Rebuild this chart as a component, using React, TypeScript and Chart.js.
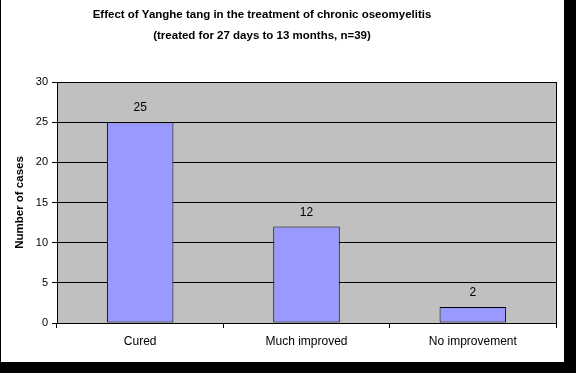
import { useEffect, useRef } from "react";
import { Chart, registerables } from "chart.js";

Chart.register(...registerables);

const categories = ["Cured", "Much improved", "No improvement"];
const cases = [25, 12, 2];
const yMin = 0;
const yMax = 30;
const yStep = 5;
const titleLines = [
  "Effect of Yanghe tang in the treatment of chronic oseomyelitis",
  "(treated for 27 days to 13 months, n=39)",
];
const yAxisTitle = "Number of cases";

const FONT = "'Liberation Sans', Arial, sans-serif";

const framePlugin = {
  id: "frame",
  beforeDraw(chart: any) {
    const { ctx, chartArea: a } = chart;
    ctx.save();
    ctx.fillStyle = "#000000";
    ctx.fillRect(0, 0, chart.width, chart.height);
    ctx.fillStyle = "#ffffff";
    ctx.fillRect(1, 0, 563, 362);
    ctx.fillStyle = "#c0c0c0";
    ctx.fillRect(a.left, a.top, a.right - a.left, a.bottom - a.top);
    ctx.restore();
  },
  afterDatasetsDraw(chart: any) {
    const { ctx } = chart;
    const meta = chart.getDatasetMeta(0);
    ctx.save();
    ctx.fillStyle = "#000000";
    ctx.font = `12px ${FONT}`;
    ctx.textAlign = "center";
    ctx.textBaseline = "middle";
    meta.data.forEach((el: any, i: number) => {
      ctx.fillText(String(cases[i]), el.x, el.y - 14);
    });
    ctx.restore();
  },
  afterDraw(chart: any) {
    const { ctx, chartArea: a } = chart;
    ctx.save();
    ctx.strokeStyle = "#000000";
    ctx.lineWidth = 1;
    ctx.strokeRect(a.left + 0.5, a.top + 0.5, a.right - a.left, a.bottom - a.top);
    ctx.fillStyle = "#000000";
    ctx.textAlign = "center";
    ctx.textBaseline = "middle";
    ctx.font = `bold 11.5px ${FONT}`;
    ctx.fillText(titleLines[0], 262, 15);
    ctx.fillText(titleLines[1], 262, 36);
    ctx.translate(20, (a.top + a.bottom) / 2);
    ctx.rotate(-Math.PI / 2);
    ctx.font = `bold 11.5px ${FONT}`;
    ctx.fillText(yAxisTitle, 0, 0);
    ctx.restore();
  },
};

export default function App() {
  const ref = useRef<HTMLCanvasElement | null>(null);
  useEffect(() => {
    if (!ref.current) return;
    const chart = new Chart(ref.current, {
      type: "bar",
      data: {
        labels: categories,
        datasets: [
          {
            data: cases,
            backgroundColor: "#9999ff",
            borderColor: "#000000",
            borderWidth: 1,
            borderSkipped: false,
            categoryPercentage: 1,
            barPercentage: 0.4,
          },
        ],
      },
      options: {
        animation: false,
        responsive: false,
        devicePixelRatio: 1,
        layout: { padding: { left: 0, top: 82, right: 20, bottom: 0 } },
        plugins: {
          legend: { display: false },
          title: { display: false },
          tooltip: { enabled: false },
        },
        scales: {
          x: {
            offset: true,
            afterFit(scale: any) {
              scale.height = 50;
            },
            grid: {
              offset: true,
              drawOnChartArea: false,
              drawTicks: true,
              tickLength: 5,
              color: "#000000",
            },
            border: { display: true, color: "#000000" },
            ticks: {
              color: "#000000",
              font: { family: FONT, size: 12 },
              padding: 6,
              maxRotation: 0,
            },
          },
          y: {
            min: yMin,
            max: yMax,
            afterFit(scale: any) {
              scale.width = 57;
            },
            grid: {
              color: "#000000",
              tickLength: 5,
              drawTicks: true,
            },
            border: { display: true, color: "#000000" },
            ticks: {
              stepSize: yStep,
              color: "#000000",
              font: { family: FONT, size: 11 },
              padding: 4,
            },
          },
        },
      },
      plugins: [framePlugin],
    });
    return () => chart.destroy();
  }, []);
  return (
    <div style={{ position: "fixed", left: 0, top: 0, width: 576, height: 373 }}>
      <canvas ref={ref} width={576} height={373} style={{ display: "block", width: 576, height: 373 }} />
    </div>
  );
}
